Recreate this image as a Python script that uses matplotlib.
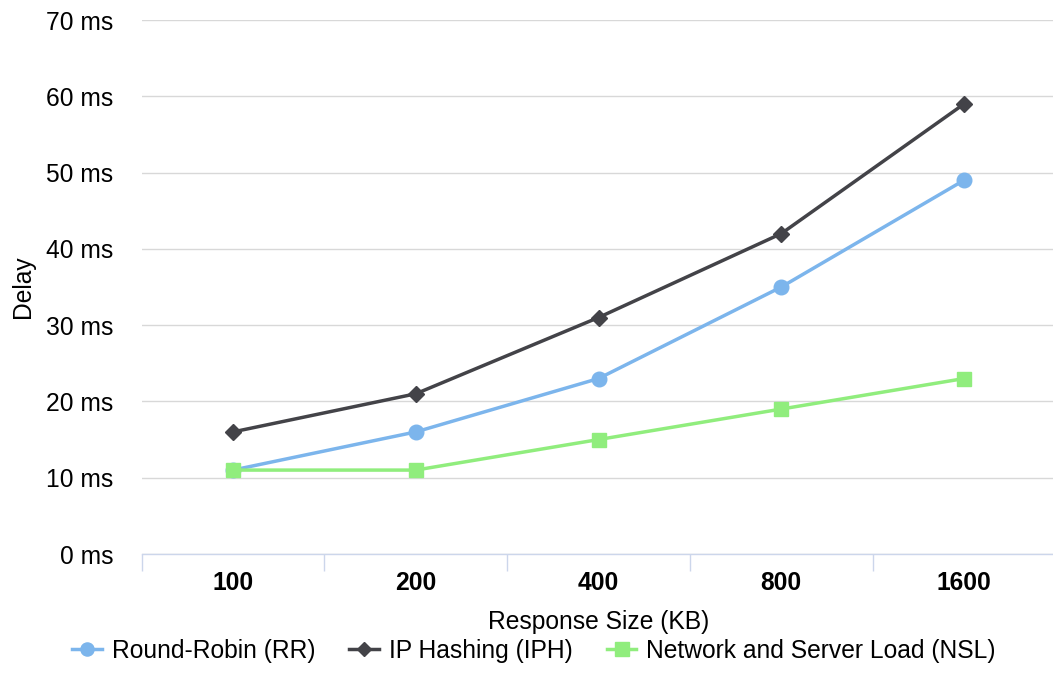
import matplotlib
matplotlib.use("Agg")
import matplotlib.pyplot as plt
import numpy as np

plt.rcParams['font.family'] = ['Liberation Sans', 'DejaVu Sans']

categories = ["100", "200", "400", "800", "1600"]
rr = [11, 16, 23, 35, 49]
iph = [16, 21, 31, 42, 59]
nsl = [11, 11, 15, 19, 23]
yticks = [0, 10, 20, 30, 40, 50, 60, 70]

FS = 17.7
W, H = 1053, 693
fig = plt.figure(figsize=(W / 100, H / 100), dpi=100)
left, right, bottom, top = 141.5, 1055.5, 554, 20
ax = fig.add_axes([left / W, (H - bottom) / H, (right - left) / W, (bottom - top) / H])

x = np.arange(len(categories))
ax.plot(x, rr, color="#7cb5ec", lw=2.5, marker="o", ms=10.5, label="Round-Robin (RR)", zorder=3)
ax.plot(x, iph, color="#434348", lw=2.5, marker="D", ms=8, label="IP Hashing (IPH)", zorder=3)
ax.plot(x, nsl, color="#90ed7d", lw=2.5, marker="s", ms=10.5, label="Network and Server Load (NSL)", zorder=3)

ax.set_xlim(-0.5, len(categories) - 0.5)
ax.set_ylim(0, 70)
ax.set_yticks(yticks)
ax.set_yticklabels([f"{v} ms" for v in yticks], fontsize=FS)
ax.set_xticks(x)
ax.set_xticklabels(categories, fontsize=FS, fontweight="bold")
ax.set_xticks(np.arange(-0.5, len(categories)), minor=True)
ax.tick_params(axis="x", which="major", length=0, pad=12)
ax.tick_params(axis="x", which="minor", length=12.5, width=1, color="#ccd6eb", direction="out")
ax.tick_params(axis="y", length=0, pad=20.5)

ax.grid(axis="y", color="#d8d8d8", lw=1)
ax.set_axisbelow(True)
for s in ["top", "right", "left"]:
    ax.spines[s].set_visible(False)
ax.spines["bottom"].set_color("#ccd6eb")
ax.spines["bottom"].set_linewidth(1)
ax.spines["bottom"].set_zorder(2)

ax.set_xlabel("Response Size (KB)", fontsize=FS, labelpad=11)
ax.set_ylabel("Delay", fontsize=FS)
ax.yaxis.set_label_coords((35 - left) / (right - left), 0.5)

leg = fig.legend(loc="center", bbox_to_anchor=(534 / W, 1 - 651 / H), ncol=3, frameon=False,
                 fontsize=FS, handlelength=1.2, columnspacing=1.4, handletextpad=0.4,
                 markerscale=0.9)

fig.savefig("out.png", dpi=100)
